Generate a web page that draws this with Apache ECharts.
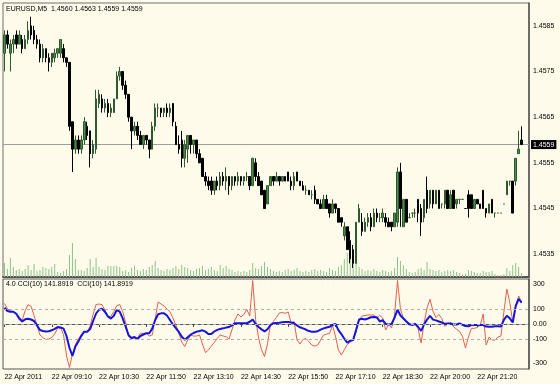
<!DOCTYPE html>
<html><head><meta charset="utf-8">
<script src="https://cdn.jsdelivr.net/npm/echarts@6/dist/echarts.min.js"></script>
<style>html,body{margin:0;padding:0;background:#fffbea;}#c{width:560px;height:384px;}</style>
</head><body><div id="c"></div><script>
const symbolName = 'EURUSD,M5';
const slotCount = 178;
const open = [1.4579,1.4583,1.4579,1.4581,1.4583,1.4581,1.4582,1.4580,1.4582,1.4585,
1.4584,1.4582,1.4581,1.4578,1.4580,1.4578,1.4577,1.4578,1.4579,1.4579,
1.4580,1.4578,1.4577,1.4564,1.4558,1.4560,1.4558,1.4560,1.4563,1.4562,
1.4557,1.4558,1.4568,1.4569,1.4567,1.4568,1.4566,1.4566,1.4569,1.4574,
1.4575,1.4572,1.4570,1.4565,1.4562,1.4563,1.4561,1.4559,1.4561,1.4560,
1.4558,1.4563,1.4567,1.4567,1.4566,1.4567,1.4566,1.4568,1.4563,1.4559,
1.4560,1.4556,1.4558,1.4561,1.4559,1.4560,1.4557,1.4556,1.4552,1.4551,
1.4551,1.4549,1.4551,1.4550,1.4552,1.4551,1.4552,1.4550,1.4552,1.4551,
1.4552,1.4551,1.4552,1.4552,1.4550,1.4555,1.4552,1.4551,1.4549,1.4546,
1.4550,1.4552,1.4551,1.4552,1.4551,1.4552,1.4553,1.4551,1.4550,1.4553,
1.4551,1.4550,1.4549,1.4549,1.4548,1.4549,1.4547,1.4546,1.4545,1.4547,
1.4546,1.4544,1.4546,1.4545,1.4543,1.4539,1.4541,1.4538,1.4536,1.4533,
1.4542,1.4542,1.4540,1.4542,1.4543,1.4541,1.4544,1.4543,1.4543,1.4543,
1.4542,1.4542,1.4541,1.4542,1.4553,1.4541,1.4547,1.4543,1.4544,1.4544,
1.4547,1.4545,1.4543,1.4549,1.4546,1.4549,1.4546,1.4549,1.4546,1.4546,
1.4549,1.4545,1.4549,1.4546,1.4547,1.4547,1.4545,1.4548,1.4548,1.4545,
1.4547,1.4546,1.4549,1.4545,1.4544,1.4547,1.4544,1.4544,1.4544,1.4546,
1.4548,1.4551,1.4551,1.4551,1.4557,1.4560];
const close = [1.4583,1.4581,1.4581,1.4582,1.4581,1.4583,1.4580,1.4582,1.4584,1.4583,
1.4582,1.4581,1.4578,1.4580,1.4578,1.4577,1.4579,1.4579,1.4580,1.4582,
1.4578,1.4577,1.4563,1.4558,1.4560,1.4558,1.4560,1.4564,1.4561,1.4557,
1.4559,1.4569,1.4570,1.4567,1.4568,1.4566,1.4567,1.4569,1.4574,1.4575,
1.4572,1.4570,1.4565,1.4562,1.4563,1.4561,1.4559,1.4561,1.4560,1.4558,
1.4563,1.4567,1.4567,1.4566,1.4567,1.4566,1.4567,1.4564,1.4559,1.4558,
1.4556,1.4559,1.4561,1.4559,1.4560,1.4557,1.4555,1.4552,1.4551,1.4550,
1.4549,1.4551,1.4550,1.4552,1.4551,1.4552,1.4550,1.4552,1.4551,1.4552,
1.4551,1.4552,1.4552,1.4550,1.4556,1.4552,1.4550,1.4548,1.4545,1.4550,
1.4552,1.4551,1.4552,1.4551,1.4552,1.4551,1.4551,1.4550,1.4552,1.4551,
1.4550,1.4549,1.4549,1.4548,1.4548,1.4547,1.4546,1.4545,1.4547,1.4545,
1.4544,1.4546,1.4545,1.4542,1.4542,1.4541,1.4536,1.4534,1.4533,1.4542,
1.4545,1.4540,1.4542,1.4543,1.4541,1.4544,1.4543,1.4543,1.4544,1.4542,
1.4541,1.4541,1.4544,1.4553,1.4545,1.4547,1.4542,1.4543,1.4544,1.4544,
1.4544,1.4542,1.4547,1.4545,1.4549,1.4546,1.4549,1.4545,1.4546,1.4549,
1.4545,1.4548,1.4545,1.4547,1.4547,1.4547,1.4545,1.4545,1.4545,1.4547,
1.4546,1.4545,1.4545,1.4544,1.4546,1.4544,1.4544,1.4544,1.4544,1.4546,
1.4551,1.4551,1.4544,1.4556,1.4558,1.4559];
const low = [1.4575,1.4580,1.4575,1.4579,1.4580,1.4581,1.4579,1.4580,1.4581,1.4582,
1.4581,1.4580,1.4577,1.4577,1.4577,1.4575,1.4576,1.4577,1.4578,1.4578,
1.4577,1.4576,1.4562,1.4553,1.4557,1.4557,1.4557,1.4559,1.4560,1.4554,
1.4556,1.4557,1.4567,1.4566,1.4566,1.4565,1.4565,1.4566,1.4569,1.4573,
1.4571,1.4569,1.4564,1.4558,1.4561,1.4560,1.4559,1.4558,1.4559,1.4556,
1.4558,1.4562,1.4565,1.4565,1.4565,1.4565,1.4565,1.4563,1.4559,1.4557,
1.4554,1.4554,1.4555,1.4557,1.4557,1.4556,1.4555,1.4552,1.4550,1.4549,
1.4548,1.4548,1.4549,1.4549,1.4550,1.4549,1.4548,1.4549,1.4550,1.4550,
1.4550,1.4550,1.4551,1.4549,1.4550,1.4551,1.4550,1.4548,1.4545,1.4546,
1.4550,1.4550,1.4551,1.4550,1.4551,1.4551,1.4551,1.4549,1.4549,1.4551,
1.4550,1.4549,1.4548,1.4548,1.4547,1.4546,1.4546,1.4545,1.4545,1.4545,
1.4543,1.4544,1.4544,1.4542,1.4541,1.4538,1.4536,1.4533,1.4532,1.4533,
1.4542,1.4539,1.4540,1.4541,1.4540,1.4541,1.4542,1.4542,1.4542,1.4541,
1.4541,1.4540,1.4541,1.4541,1.4541,1.4541,1.4542,1.4543,1.4543,1.4543,
1.4542,1.4539,1.4542,1.4544,1.4545,1.4545,1.4546,1.4545,1.4545,1.4545,
1.4545,1.4545,1.4545,1.4545,1.4546,1.4547,1.4545,1.4543,1.4545,1.4545,
1.4546,1.4545,1.4545,1.4543,1.4544,1.4544,1.4543,1.4544,1.4544,1.4546,
1.4548,1.4550,1.4544,1.4550,1.4557,1.4559];
const high = [1.4584,1.4584,1.4582,1.4583,1.4584,1.4584,1.4583,1.4583,1.4586,1.4587,
1.4585,1.4583,1.4582,1.4581,1.4580,1.4579,1.4579,1.4580,1.4580,1.4582,
1.4581,1.4578,1.4577,1.4564,1.4561,1.4561,1.4561,1.4565,1.4564,1.4562,
1.4560,1.4571,1.4571,1.4570,1.4569,1.4569,1.4568,1.4569,1.4575,1.4576,
1.4575,1.4573,1.4570,1.4565,1.4564,1.4564,1.4562,1.4561,1.4561,1.4560,
1.4564,1.4568,1.4568,1.4567,1.4567,1.4568,1.4568,1.4568,1.4564,1.4561,
1.4562,1.4560,1.4561,1.4561,1.4560,1.4560,1.4558,1.4556,1.4553,1.4552,
1.4552,1.4551,1.4552,1.4553,1.4553,1.4554,1.4552,1.4552,1.4552,1.4553,
1.4552,1.4552,1.4553,1.4552,1.4556,1.4556,1.4553,1.4551,1.4549,1.4550,
1.4552,1.4552,1.4553,1.4552,1.4552,1.4552,1.4553,1.4552,1.4553,1.4553,
1.4551,1.4551,1.4550,1.4549,1.4549,1.4550,1.4547,1.4547,1.4548,1.4548,
1.4546,1.4547,1.4546,1.4545,1.4543,1.4542,1.4541,1.4540,1.4537,1.4542,
1.4546,1.4544,1.4543,1.4544,1.4544,1.4545,1.4545,1.4544,1.4545,1.4544,
1.4543,1.4542,1.4544,1.4554,1.4555,1.4547,1.4547,1.4544,1.4544,1.4545,
1.4547,1.4546,1.4547,1.4552,1.4549,1.4549,1.4549,1.4549,1.4546,1.4549,
1.4549,1.4549,1.4549,1.4547,1.4547,1.4547,1.4545,1.4549,1.4548,1.4547,
1.4547,1.4546,1.4549,1.4545,1.4546,1.4547,1.4544,1.4544,1.4544,1.4546,
1.4551,1.4551,1.4551,1.4556,1.4562,1.4563];
const volume = [28,16,38,20,14,16,12,16,24,14,26,12,14,20,18,16,20,26,10,8,
12,16,44,68,36,14,14,12,18,36,20,38,20,16,14,22,22,22,22,20,
12,14,10,18,22,14,12,16,14,20,24,32,18,14,12,16,14,18,22,16,
24,20,18,14,12,16,18,22,14,16,20,14,12,24,18,22,16,14,10,12,
10,12,10,14,28,18,16,22,30,20,16,12,10,12,10,14,16,12,14,18,
12,10,12,10,14,16,12,14,12,10,18,14,12,20,24,36,48,60,44,32,
20,16,12,14,12,16,12,10,14,12,10,12,18,40,32,24,16,10,8,10,
16,18,14,30,16,14,12,14,10,12,14,12,14,10,8,6,6,14,12,10,
8,8,12,10,10,12,6,4,4,6,18,12,24,28,20,8];
const cciRed = [137,102,87,83,63,27,27,89,129,118,57,-7,-73,-91,-103,-100,-90,-67,-27,-27,
-73,-213,-290,-200,-137,-100,-70,-51,-51,-13,67,130,133,129,93,51,50,83,123,130,
83,10,-83,-100,-93,-93,-62,-62,-62,-80,-73,33,147,133,120,100,82,40,-7,-60,
-120,-150,-107,-73,-81,-80,-73,-133,-191,-173,-147,-123,-97,-73,-80,-85,-100,-38,27,67,
47,63,97,53,290,27,-93,-173,-217,-133,-3,17,43,73,77,71,80,7,17,-107,
-133,-103,-97,-117,-140,-147,-140,-107,-73,-67,-63,-10,-80,-173,-207,-171,-137,-120,-107,-50,
27,53,57,60,60,60,37,57,40,-40,0,-27,60,290,100,37,17,3,-5,0,
-33,-127,7,107,165,87,43,63,37,-15,0,10,-19,-35,-49,-83,-160,-87,-29,-29,
-23,-7,67,-140,-87,-107,-107,-87,-80,80,233,143,13,120,187,141.8919];
const cciBlue = [108,87,82,82,68,38,17,31,35,30,20,-9,-40,-47,-50,-48,-42,-33,-20,-23,
-31,-80,-160,-213,-150,-117,-79,-51,-51,-33,20,70,95,102,82,50,36,55,93,83,
37,-18,-75,-93,-87,-100,-80,-70,-62,-62,-31,27,65,71,71,57,27,-3,-27,-53,
-85,-105,-89,-71,-60,-51,-47,-42,-51,-67,-67,-50,-39,-33,-29,-24,-20,-9,5,5,
5,5,5,15,30,0,-20,-36,-49,-35,-7,5,7,8,11,13,13,10,5,-10,
-22,-29,-37,-47,-51,-51,-48,-38,-29,-23,-19,-7,1,-41,-67,-98,-125,-111,-107,-39,
30,35,30,37,45,46,45,17,25,1,-4,0,43,95,57,37,17,-2,-7,1,
-20,-46,-2,29,55,29,24,17,10,1,3,3,-4,-3,4,-6,-14,-15,-7,-7,
-7,-7,-7,-17,-18,-18,-15,-15,-17,27,55,38,10,120,167,141.8919];
const timeLabels = ['22 Apr 2011','22 Apr 09:10','22 Apr 10:30','22 Apr 11:50','22 Apr 13:10','22 Apr 14:30',
'22 Apr 15:50','22 Apr 17:10','22 Apr 18:30','22 Apr 20:00','22 Apr 21:20'];
const labelEvery = 16;
const priceTicks = ['1.4585','1.4575','1.4565','1.4555','1.4545','1.4535'];
const cciTickLabels = {'300':'300','100':'100','0':'0.00','-100':'-100','-300':'-300'};
const cciLevels = [100, 0, -100];
const currentPrice = 1.4559;

const categories = Array.from({length: slotCount}, (_, i) => String(i));
const candles = open.map((o, i) => [o, close[i], low[i], high[i]]);
const last = open.length - 1;
const font = 'Liberation Sans, Arial, sans-serif';
const isTick = (i) => i % labelEvery === 0 && i / labelEvery < timeLabels.length;

const chart = echarts.init(document.getElementById('c'), null, {renderer: 'canvas'});
chart.setOption({
  animation: false,
  backgroundColor: '#fffbea',
  textStyle: {fontFamily: font},
  title: [
    {text: symbolName + '  ' + [open[last], high[last], low[last], close[last]].map(v => v.toFixed(4)).join(' '),
     left: 6, top: 6, padding: 0, textStyle: {fontSize: 7, fontWeight: 'normal', color: '#000', fontFamily: font}},
    {text: '4.0 CCI(10) ' + cciRed[last].toFixed(4) + '  CCI(10) ' + cciBlue[last].toFixed(4),
     left: 6, top: 281, padding: 0, textStyle: {fontSize: 7, fontWeight: 'normal', color: '#000', fontFamily: font}}
  ],
  grid: [
    {left: 3, right: 31, top: 3, height: 274, show: true, borderColor: '#6e6e6e', borderWidth: 1},
    {left: 3, right: 31, top: 279, height: 90, show: true, borderColor: '#555', borderWidth: 1}
  ],
  xAxis: [
    {type: 'category', gridIndex: 0, data: categories, boundaryGap: true,
     axisLabel: {show: false}, axisTick: {show: false},
     axisLine: {show: true, lineStyle: {color: '#555', width: 2}}},
    {type: 'category', gridIndex: 1, data: categories, boundaryGap: true,
     axisLine: {show: true, lineStyle: {color: '#555', width: 1}},
     axisTick: {show: true, alignWithLabel: true, length: 3, interval: (i) => isTick(i), lineStyle: {color: '#444'}},
     axisLabel: {show: true, interval: (i) => isTick(i), align: 'left', margin: 5, fontSize: 7, color: '#000',
       fontFamily: font, formatter: (v, i) => timeLabels[i / labelEvery] || ''}}
  ],
  yAxis: [
    {type: 'value', gridIndex: 0, position: 'right', min: 1.4530, max: 1.4590, interval: 0.0005,
     splitLine: {show: false}, axisTick: {show: false},
     axisLine: {show: true, lineStyle: {color: '#555', width: 1.5}},
     axisLabel: {margin: 4, fontSize: 7, color: '#000', fontFamily: font,
       formatter: (v) => { const s = v.toFixed(4); return priceTicks.includes(s) ? s : ''; }}},
    {type: 'value', gridIndex: 0, min: 0, max: 548, show: false},
    {type: 'value', gridIndex: 1, position: 'right', min: -300, max: 300, interval: 100,
     splitLine: {show: false}, axisTick: {show: false},
     axisLine: {show: true, lineStyle: {color: '#555', width: 1.5}},
     axisLabel: {margin: 4, fontSize: 7, color: '#000', fontFamily: font,
       formatter: (v) => { const s = cciTickLabels[String(v)]; if (!s) return ''; if (v === 300) return '{t|' + s + '}'; if (v === -300) return '{b|' + s + '}'; return s; },
       rich: {t: {padding: [11, 0, 0, 0], fontSize: 7, color: '#000', fontFamily: font},
              b: {padding: [0, 0, 11, 0], fontSize: 7, color: '#000', fontFamily: font}}}}
  ],
  series: [
    {type: 'bar', name: 'Volume', xAxisIndex: 0, yAxisIndex: 1, data: volume, barWidth: 1,
     itemStyle: {color: '#8cc48c'}, z: 1, silent: true},
    {type: 'candlestick', name: 'EURUSD', xAxisIndex: 0, yAxisIndex: 0, data: candles, barWidth: 2, z: 3,
     itemStyle: {color: '#4b8a4b', color0: '#000', borderColor: '#2f5a2f', borderColor0: '#000', borderWidth: 1},
     markLine: {silent: true, symbol: 'none', animation: false, precision: 4, z: 1,
       lineStyle: {color: '#a0a0a0', width: 1, type: 'solid'},
       label: {show: true, position: 'end', distance: 2, formatter: currentPrice.toFixed(4), fontSize: 7,
         color: '#fff', backgroundColor: '#000', padding: [1, 2, 1, 2], fontFamily: font},
       data: [{yAxis: currentPrice}]}},
    {type: 'line', name: 'CCI red', xAxisIndex: 1, yAxisIndex: 2, data: cciRed, showSymbol: false,
     lineStyle: {color: '#e0604f', width: 1}, z: 3,
     markLine: {silent: true, symbol: 'none', animation: false, label: {show: false},
       lineStyle: {color: '#b0b0b0', width: 1, type: [3, 3]},
       data: cciLevels.map(v => ({yAxis: v}))}},
    {type: 'line', name: 'CCI blue', xAxisIndex: 1, yAxisIndex: 2, data: cciBlue, showSymbol: false,
     lineStyle: {color: '#1414e0', width: 2}, z: 4}
  ]
});
</script></body></html>
